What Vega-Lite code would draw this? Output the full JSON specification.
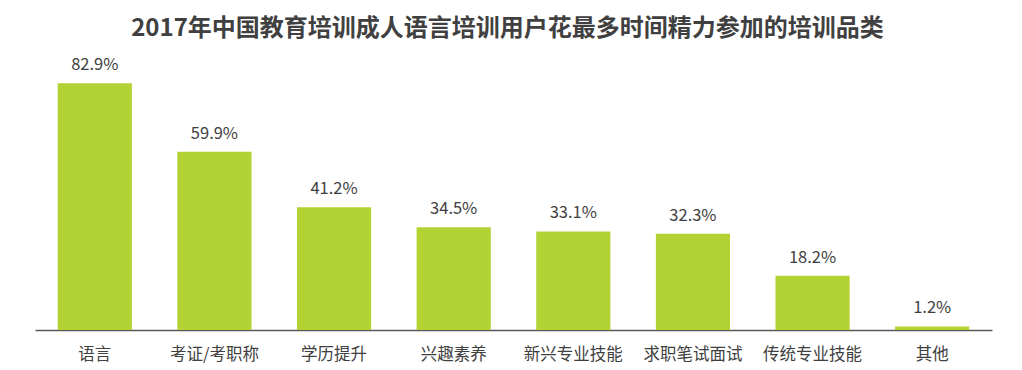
{
  "$schema": "https://vega.github.io/schema/vega-lite/v6.json",
  "autosize": "none",
  "width": 957,
  "height": 268,
  "padding": {"left": 35, "top": 62, "right": 30, "bottom": 40},
  "background": "white",
  "title": {
    "text": "2017年中国教育培训成人语言培训用户花最多时间精力参加的培训品类",
    "font": "Noto Sans CJK SC",
    "fontSize": 24,
    "fontWeight": "bold",
    "color": "#404040",
    "anchor": "middle",
    "offset": 16,
    "dx": -6
  },
  "data": {
    "values": [
      {"category": "语言", "value": 82.9, "label": "82.9%"},
      {"category": "考证/考职称", "value": 59.9, "label": "59.9%"},
      {"category": "学历提升", "value": 41.2, "label": "41.2%"},
      {"category": "兴趣素养", "value": 34.5, "label": "34.5%"},
      {"category": "新兴专业技能", "value": 33.1, "label": "33.1%"},
      {"category": "求职笔试面试", "value": 32.3, "label": "32.3%"},
      {"category": "传统专业技能", "value": 18.2, "label": "18.2%"},
      {"category": "其他", "value": 1.2, "label": "1.2%"}
    ]
  },
  "encoding": {
    "x": {
      "field": "category",
      "type": "nominal",
      "sort": null,
      "scale": {"paddingInner": 0.38, "paddingOuter": 0.19},
      "axis": {
        "title": null,
        "labelAngle": 0,
        "labelFont": "Noto Sans CJK SC",
        "labelFontSize": 16.5,
        "labelColor": "#404040",
        "labelPadding": 16,
        "ticks": false,
        "domainColor": "#595959",
        "domainWidth": 1.5
      }
    },
    "y": {
      "field": "value",
      "type": "quantitative",
      "scale": {"domain": [0, 90]},
      "axis": null
    }
  },
  "layer": [
    {"mark": {"type": "bar", "color": "#b3d334"}},
    {
      "mark": {
        "type": "text",
        "baseline": "bottom",
        "dy": -10,
        "font": "Noto Sans CJK SC",
        "fontSize": 16.5,
        "color": "#404040"
      },
      "encoding": {"text": {"field": "label"}}
    }
  ],
  "config": {"view": {"stroke": null}}
}
